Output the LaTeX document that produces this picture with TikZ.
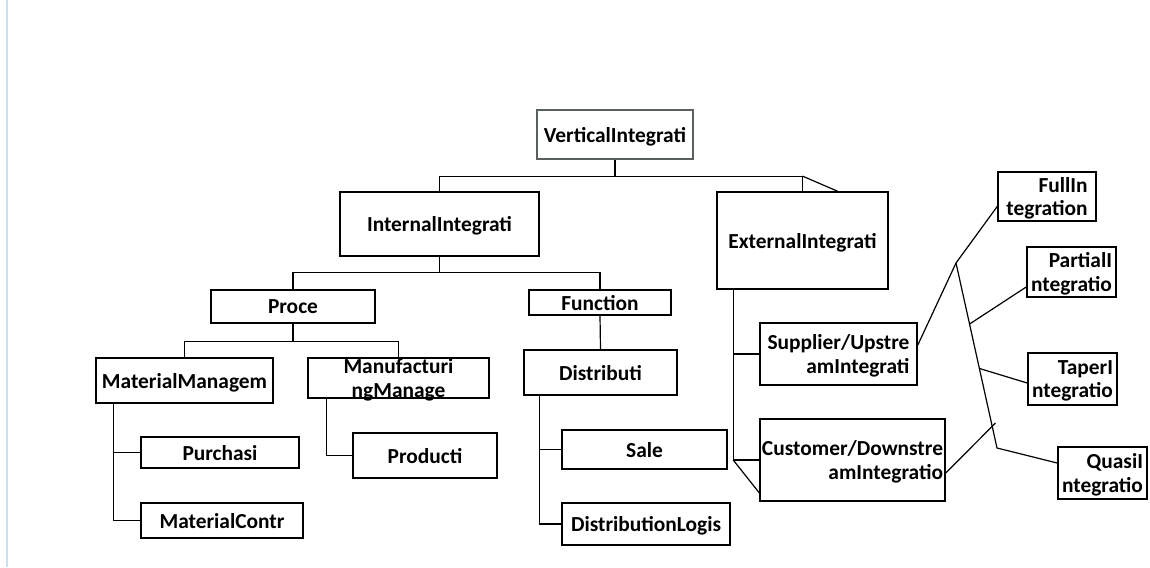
\documentclass[tikz,border=0pt]{standalone}
\usepackage{fontspec}
\setmainfont{Carlito}
\usetikzlibrary{calc}
\definecolor{viFrame}{RGB}{90,96,96}
\definecolor{viEdge}{RGB}{205,222,240}

\begin{document}
\begin{tikzpicture}[
    x=0.5pt, y=-0.5pt,
    tree node/.style={rectangle, draw=black, line width=0.8pt, inner sep=0pt, text depth=0pt, fill=white, font=\fontsize{10.7}{11.6}\selectfont\bfseries},
    root node/.style={tree node, draw=viFrame, line width=1.1pt},
    split node/.style={tree node, align=right},
    link/.style={line width=0.6pt}
]
  \useasboundingbox (0,0) rectangle (1150,567);
  \draw[viEdge, line width=1pt] (7,0) -- (7,567);

  % top levels
  \node[root node, minimum width=78pt, minimum height=24.5pt] (vert) at (615,134.5) {VerticalIntegrati};
  \node[tree node, minimum width=99.5pt, minimum height=32pt] (intl) at (439.5,224) {InternalIntegrati};
  \node[tree node, minimum width=85.5pt, minimum height=48.5pt] (extl) at (802.5,240.5) {ExternalIntegrati};
  \node[tree node, minimum width=82pt, minimum height=16.5pt] (proc) at (293,306.5) {Proce};
  \node[tree node, minimum width=71pt, minimum height=12.5pt] (func) at (600,302.5) {Function};

  % process branch
  \node[tree node, minimum width=88.5pt, minimum height=22.5pt] (matm) at (184.5,380.5) {MaterialManagem};
  \node[tree node, align=center, minimum width=90.5pt, minimum height=20pt] (manf) at (398.5,378) {Manufacturi\\ngManage};
  \node[tree node, minimum width=79pt, minimum height=15.5pt] (purc) at (220,452.5) {Purchasi};
  \node[tree node, minimum width=81pt, minimum height=17.5pt] (matc) at (222,520.5) {MaterialContr};
  \node[tree node, minimum width=72pt, minimum height=22.5pt] (prod) at (425,455.5) {Producti};

  % function branch
  \node[tree node, minimum width=76.5pt, minimum height=22.5pt] (dist) at (600.5,372.5) {Distributi};
  \node[tree node, minimum width=82.5pt, minimum height=19.5pt] (sale) at (644.5,449.5) {Sale};
  \node[tree node, minimum width=84pt, minimum height=21pt] (dlog) at (646,524) {DistributionLogis};

  % external branch
  \node[split node, minimum width=78.5pt, minimum height=31pt] (supp) at (838.5,354) {Supplier/Upstre\\amIntegrati};
  \node[split node, minimum width=92.5pt, minimum height=41pt] (cust) at (852.5,460) {Customer/Downstre\\amIntegratio};
  \node[split node, minimum width=49pt, minimum height=24.5pt] (full) at (1047,196.5) {FullIn\\tegration};
  \node[split node, minimum width=44.5pt, minimum height=25pt] (part) at (1071.5,272) {PartialI\\ntegratio};
  \node[split node, minimum width=44.5pt, minimum height=26pt] (tape) at (1072.5,379) {TaperI\\ntegratio};
  \node[split node, minimum width=44.5pt, minimum height=26pt] (quas) at (1102.5,473) {QuasiI\\ntegratio};

  % links
  \draw[link] (vert.south) -- ++(0,16) coordinate (vsplit);
  \draw[link] (vsplit) -| (intl.north);
  \draw[link] (vsplit) -| (extl.north);
  \draw[link] (vsplit -| extl.north) -- ($(extl.north)+(35,0)$);

  \draw[link] (intl.south) -- ++(0,16) coordinate (isplit);
  \draw[link] (isplit) -| (proc.north);
  \draw[link] (isplit) -| (func.north);

  \draw[link] (proc.south) -- ++(0,18) coordinate (psplit);
  \draw[link] (psplit) -| (matm.north);
  \draw[link] (psplit) -| (manf.north);

  \coordinate (mbranch) at ($(matm.south west)+(18,0)$);
  \draw[link] (mbranch) |- (purc.west);
  \draw[link] (mbranch) |- (matc.west);
  \draw[link] ($(manf.south west)+(19,0)$) |- (prod.west);

  \draw[link] (func.south) -- (dist.north);
  \coordinate (dbranch) at ($(dist.south west)+(16,0)$);
  \draw[link] (dbranch) |- (sale.west);
  \draw[link] (dbranch) |- (dlog.west);

  \coordinate (ebranch) at ($(extl.south west)+(17,0)$);
  \draw[link] (ebranch) |- (supp.west);
  \draw[link] (ebranch) |- (cust.west);
  \draw[link] (ebranch |- cust.west) -- ($(cust.south west)+(0,-9)$);

  \coordinate (hub) at (956,263);
  \coordinate (foot) at (997,448);
  \draw[link] ($(supp.east)+(0,-9)$) -- (hub) -- ($(full.west)+(0,10)$);
  \draw[link] (hub) -- (foot) -- ($(quas.west)+(0,-10)$);
  \draw[link] ($(hub)!0.33!(foot)$) -- ($(part.west)+(0,15)$);
  \draw[link] ($(hub)!0.57!(foot)$) -- ($(tape.west)+(0,4)$);
  \draw[link] ($(cust.east)+(0,13)$) -- ($(hub)!0.865!(foot)+(4,0)$);
\end{tikzpicture}
\end{document}
